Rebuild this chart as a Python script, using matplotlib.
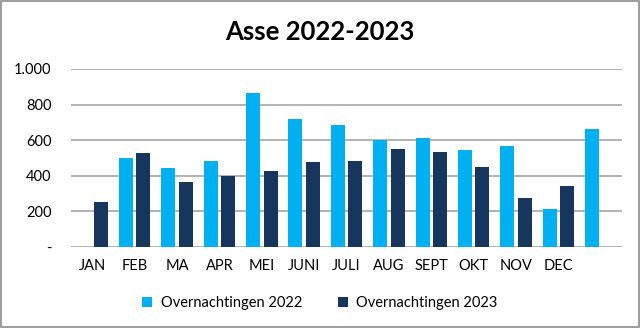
import matplotlib
matplotlib.use("Agg")
import matplotlib.pyplot as plt
import numpy as np
from matplotlib.patches import Rectangle

categories = ["JAN", "FEB", "MA", "APR", "MEI", "JUNI", "JULI", "AUG", "SEPT", "OKT", "NOV", "DEC", ""]
ov_2022 = [np.nan, 502, 446, 483, 865, 721, 683, 603, 610, 545, 567, 212, 661]
ov_2023 = [253, 526, 365, 401, 429, 479, 481, 549, 532, 451, 273, 341, np.nan]
yticks = [0, 200, 400, 600, 800, 1000]
ytick_labels = ["-", "200", "400", "600", "800", "1.000"]

plt.rcParams['font.family'] = ['Lato', 'DejaVu Sans']

fig = plt.figure(figsize=(6.4, 3.28), dpi=100)
ax = fig.add_axes([0.111, 0.247, 0.861, 0.543])

x = np.arange(len(categories))
w = 0.33
off = 0.206
c22 = "#00B0F0"
c23 = "#17365D"
ax.bar(x - off, ov_2022, w, color=c22, label="Overnachtingen 2022", zorder=3)
ax.bar(x + off, ov_2023, w, color=c23, label="Overnachtingen 2023", zorder=3)

ax.set_xlim(-0.5, len(categories) - 0.5)
ax.set_ylim(0, 1000)
ax.set_yticks(yticks)
ax.set_yticklabels(ytick_labels, fontsize=10.5, color="#000000")
ax.set_xticks(x)
ax.set_xticklabels(categories, fontsize=10.5)
ax.tick_params(axis='both', length=0)
ax.tick_params(axis='x', pad=9)
ax.tick_params(axis='y', pad=14)
ax.grid(axis='y', color="#a6a6a6", linewidth=1.2, zorder=0)
for s in ax.spines.values():
    s.set_visible(False)

fig.text(0.5, 0.902, "Asse 2022-2023", ha="center", va="center", fontsize=18.5, fontweight="bold")

fig.legend(loc="center", bbox_to_anchor=(0.5, 0.077), ncol=2, frameon=False,
           fontsize=10.5, handlelength=0.7, handleheight=0.7, columnspacing=2.4, handletextpad=0.6)

fig.patches.append(Rectangle((0.001, 0.002), 0.997, 0.995, transform=fig.transFigure,
                             fill=False, edgecolor="#8c8c8c", linewidth=1.2))

fig.savefig("out.png", dpi=100)
